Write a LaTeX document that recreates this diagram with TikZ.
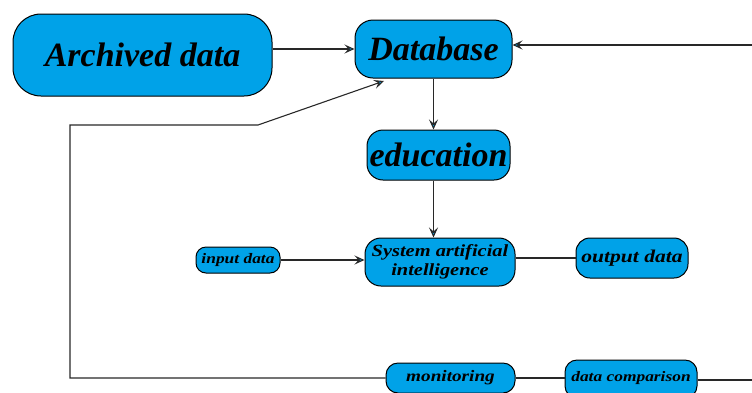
\documentclass[tikz,border=0pt]{standalone}
\usepackage{fontspec}
\setmainfont{Liberation Serif}
\newfontfamily\labelfont[FakeStretch=1.2]{Liberation Serif}
\usetikzlibrary{arrows.meta}
\definecolor{boxblue}{RGB}{0,162,232}
\definecolor{linegray}{RGB}{40,40,40}
\tikzset{
  box/.style={draw=black, line width=1pt, fill=boxblue, inner sep=0pt, align=center},
  bigtext/.style={font=\fontsize{34}{36}\selectfont\bfseries\itshape},
  link/.style={draw=linegray, line width=1.1pt},
  arr/.style={link, -{Stealth[length=10pt, width=9pt, inset=4pt, fill=boxblue]}}
}
\begin{document}
\begin{tikzpicture}[x=1pt, y=-1pt]
  \useasboundingbox (0,0) rectangle (752,392);
  \clip (0,0) rectangle (752,392);

  % upper chain
  \node[box, bigtext, minimum width=259pt, minimum height=82pt, rounded corners=28pt] (arch) at (142.5,55) {Archived data};
  \node[box, bigtext, minimum width=157pt, minimum height=58pt, rounded corners=18pt] (db) at (433.5,49) {Database};
  \node[box, bigtext, minimum width=143pt, minimum height=50pt, rounded corners=16pt] (edu) at (438.5,155) {education};
  \node[box, font=\labelfont\itshape\bfseries\fontsize{17}{19}\selectfont, minimum width=150pt, minimum height=48pt, rounded corners=16pt] (ai) at (440,262) {System artificial\\intelligence};

  % side boxes
  \node[box, font=\labelfont\itshape\bfseries\fontsize{14.5}{16}\selectfont, minimum width=84pt, minimum height=26pt, rounded corners=10pt] (in) at (238,260) {input data};
  \node[box, font=\labelfont\itshape\bfseries\fontsize{18}{20}\selectfont, minimum width=112pt, minimum height=40pt, rounded corners=14pt] (out) at (632,258) {output data};

  % bottom row
  \node[box, font=\labelfont\itshape\bfseries\fontsize{16}{18}\selectfont, minimum width=129pt, minimum height=30pt, rounded corners=12pt] (mon) at (450.5,378) {\raisebox{2pt}{monitoring}};
  \node[box, font=\labelfont\itshape\bfseries\fontsize{14.5}{16}\selectfont, minimum width=132pt, minimum height=38pt, rounded corners=12pt] (cmp) at (631,379) {\raisebox{6pt}{data comparison}};

  % free ends and bends
  \coordinate (rin) at (760,45);
  \coordinate (rout) at (760,380);
  \coordinate (dbin) at (384,81);
  \coordinate (bl) at (70,378);
  \coordinate (tl) at (70,125);
  \coordinate (tk) at (258,125);

  % connectors
  \draw[arr] (arch.east |- db.west) -- (db.west);
  \draw[arr] (rin) -- (rin -| db.east);
  \draw[arr] (db.south) -- (db.south |- edu.north);
  \draw[arr] (edu.south -| db.south) -- (db.south |- ai.north);
  \draw[arr] (in.east) -- (in.east -| ai.west);
  \draw[link] (ai.east |- out.west) -- (out.west);
  \draw[link] (mon.east) -- (mon.east -| cmp.west);
  \draw[link] (cmp.east |- rout) -- (rout);
  \draw[arr] (mon.west) -- (bl) -- (tl) -- (tk) -- (dbin);
\end{tikzpicture}
\end{document}
